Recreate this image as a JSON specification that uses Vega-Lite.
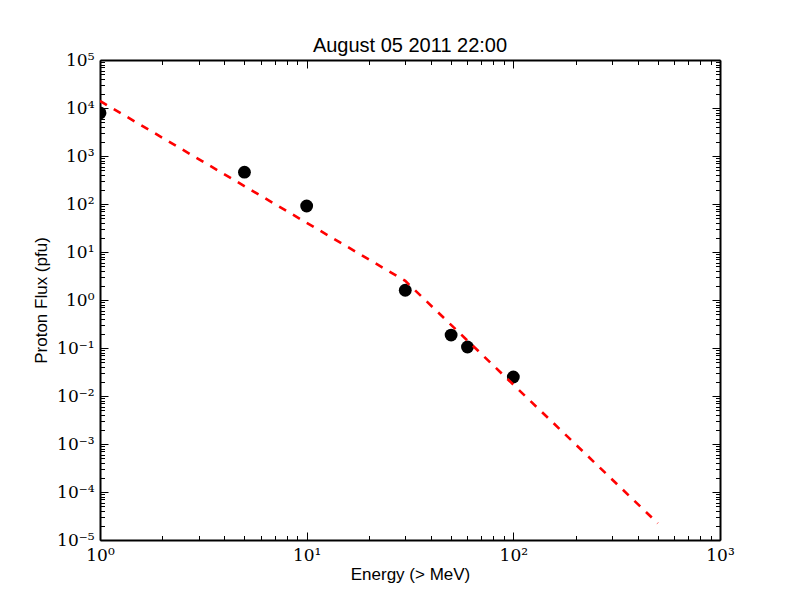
{
  "$schema": "https://vega.github.io/schema/vega-lite/v6.json",
  "autosize": "none",
  "width": 620,
  "height": 480,
  "padding": {"left": 100, "top": 60, "right": 80, "bottom": 60},
  "background": "white",
  "title": {"text": "August 05 2011 22:00", "font": "Liberation Sans", "fontSize": 20, "fontWeight": "normal", "color": "black", "offset": -5},
  "config": {
    "view": {"stroke": null},
    "axis": {
      "domainColor": "black",
      "domainWidth": 2,
      "tickColor": "black",
      "tickWidth": 1,
      "grid": false,
      "zindex": 1,
      "labelFont": "DejaVu Serif",
      "labelFontSize": 17,
      "labelColor": "black",
      "titleFont": "Liberation Sans",
      "titleFontSize": 17,
      "titleFontWeight": "normal",
      "titleColor": "black",
      "labelFlush": false,
      "labelOverlap": false
    }
  },
  "datasets": {
    "obs": [
      {"energy": 1, "flux": 7900},
      {"energy": 5, "flux": 460},
      {"energy": 10, "flux": 91},
      {"energy": 30, "flux": 1.6},
      {"energy": 50, "flux": 0.186},
      {"energy": 60, "flux": 0.105},
      {"energy": 100, "flux": 0.0249}
    ],
    "fit": [
      {"energy": 1, "flux": 14000},
      {"energy": 30, "flux": 2.5},
      {"energy": 500, "flux": 0.0000223}
    ]
  },
  "layer": [
    {
      "data": {"name": "obs"},
      "mark": {"type": "circle", "size": 165, "color": "black", "opacity": 1, "clip": true},
      "encoding": {
        "x": {
          "field": "energy", "type": "quantitative",
          "scale": {"type": "log", "domain": [1, 1000], "nice": false},
          "axis": {
            "orient": "bottom",
            "title": "Energy (> MeV)",
            "titlePadding": 0,
            "values": [1,2,3,4,5,6,7,8,9,10,20,30,40,50,60,70,80,90,100,200,300,400,500,600,700,800,900,1000],
            "tickSize": {"condition": {"test": "abs(log(datum.value)/LN10 - round(log(datum.value)/LN10)) < 0.001", "value": -8}, "value": -4.5},
            "labelPadding": 15,
            "labelExpr": "abs(log(datum.value)/LN10 - round(log(datum.value)/LN10)) < 0.001 ? '10' + replace(replace(replace(replace(replace(replace(replace(toString(round(log(datum.value)/LN10)),'-','⁻'),'0','⁰'),'1','¹'),'2','²'),'3','³'),'4','⁴'),'5','⁵') : ''"
          }
        },
        "y": {
          "field": "flux", "type": "quantitative",
          "scale": {"type": "log", "domain": [0.00001, 100000], "nice": false},
          "axis": {
            "orient": "left",
            "title": "Proton Flux (pfu)",
            "titlePadding": 6,
            "values": [0.00001,0.00002,0.00003,0.00004,0.00005,0.00006,0.00007,0.00008,0.00009,0.0001,0.0002,0.0003,0.0004,0.0005,0.0006,0.0007,0.0008,0.0009,0.001,0.002,0.003,0.004,0.005,0.006,0.007,0.008,0.009,0.01,0.02,0.03,0.04,0.05,0.06,0.07,0.08,0.09,0.1,0.2,0.3,0.4,0.5,0.6,0.7,0.8,0.9,1,2,3,4,5,6,7,8,9,10,20,30,40,50,60,70,80,90,100,200,300,400,500,600,700,800,900,1000,2000,3000,4000,5000,6000,7000,8000,9000,10000,20000,30000,40000,50000,60000,70000,80000,90000,100000],
            "tickSize": {"condition": {"test": "abs(log(datum.value)/LN10 - round(log(datum.value)/LN10)) < 0.001", "value": -8}, "value": -4.5},
            "labelPadding": 14,
            "labelExpr": "abs(log(datum.value)/LN10 - round(log(datum.value)/LN10)) < 0.001 ? '10' + replace(replace(replace(replace(replace(replace(replace(toString(round(log(datum.value)/LN10)),'-','⁻'),'0','⁰'),'1','¹'),'2','²'),'3','³'),'4','⁴'),'5','⁵') : ''"
          }
        }
      }
    },
    {
      "data": {"name": "fit"},
      "mark": {"type": "line", "color": "red", "strokeWidth": 2.6, "strokeDash": [8, 8], "clip": true},
      "encoding": {
        "x": {
          "field": "energy", "type": "quantitative",
          "scale": {"type": "log", "domain": [1, 1000], "nice": false},
          "axis": {
            "orient": "top",
            "title": null,
            "labels": false,
            "values": [1,2,3,4,5,6,7,8,9,10,20,30,40,50,60,70,80,90,100,200,300,400,500,600,700,800,900,1000],
            "tickSize": {"condition": {"test": "abs(log(datum.value)/LN10 - round(log(datum.value)/LN10)) < 0.001", "value": -8}, "value": -4.5}
          }
        },
        "y": {
          "field": "flux", "type": "quantitative",
          "scale": {"type": "log", "domain": [0.00001, 100000], "nice": false},
          "axis": {
            "orient": "right",
            "title": null,
            "labels": false,
            "values": [0.00001,0.00002,0.00003,0.00004,0.00005,0.00006,0.00007,0.00008,0.00009,0.0001,0.0002,0.0003,0.0004,0.0005,0.0006,0.0007,0.0008,0.0009,0.001,0.002,0.003,0.004,0.005,0.006,0.007,0.008,0.009,0.01,0.02,0.03,0.04,0.05,0.06,0.07,0.08,0.09,0.1,0.2,0.3,0.4,0.5,0.6,0.7,0.8,0.9,1,2,3,4,5,6,7,8,9,10,20,30,40,50,60,70,80,90,100,200,300,400,500,600,700,800,900,1000,2000,3000,4000,5000,6000,7000,8000,9000,10000,20000,30000,40000,50000,60000,70000,80000,90000,100000],
            "tickSize": {"condition": {"test": "abs(log(datum.value)/LN10 - round(log(datum.value)/LN10)) < 0.001", "value": -8}, "value": -4.5}
          }
        }
      }
    }
  ],
  "resolve": {"axis": {"x": "independent", "y": "independent"}}
}
